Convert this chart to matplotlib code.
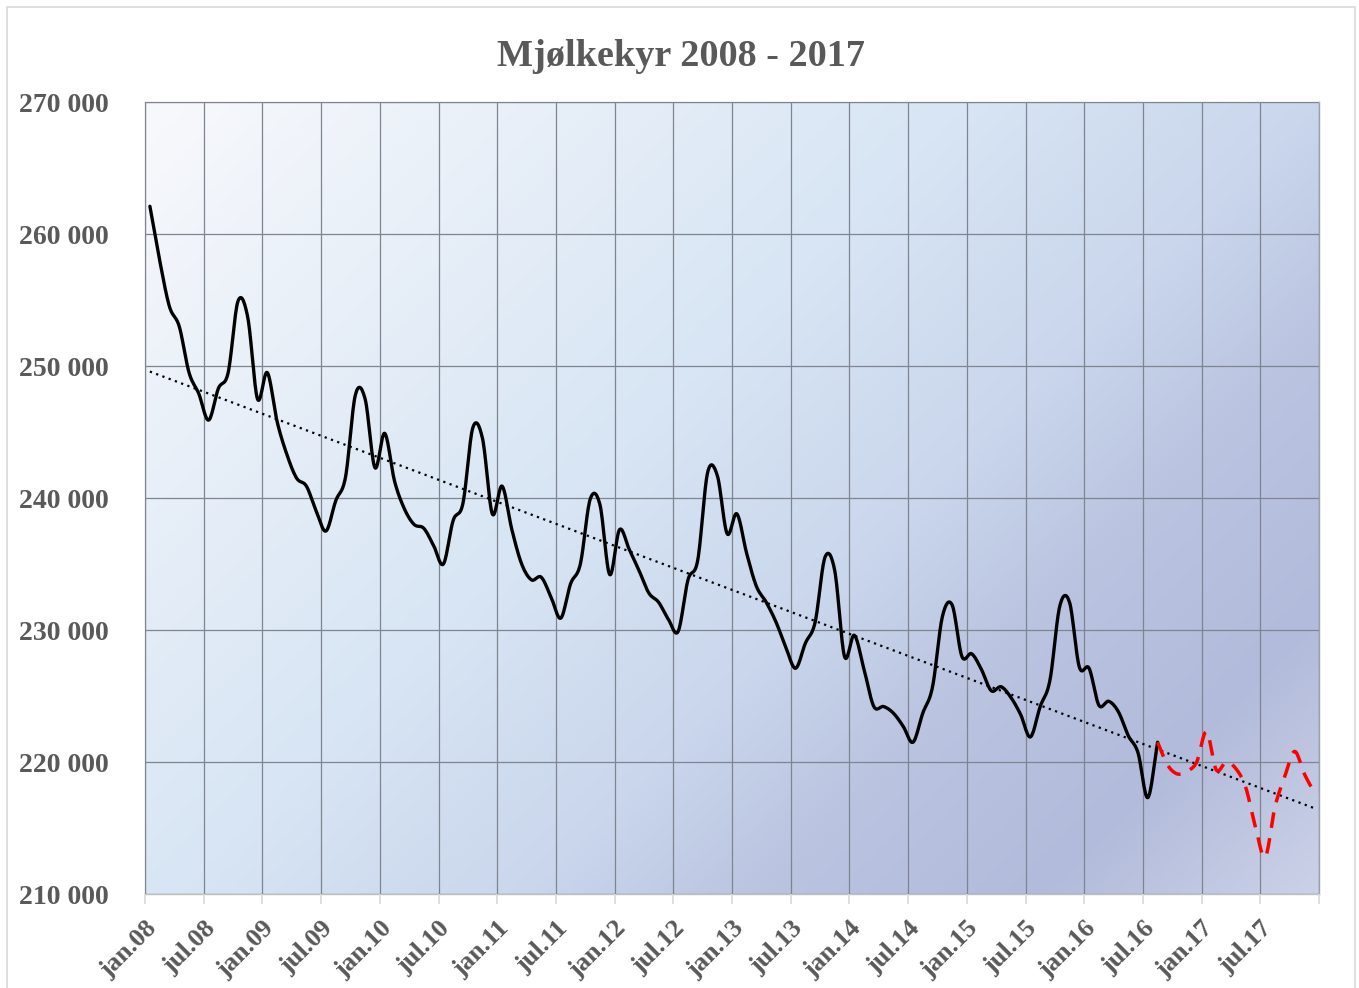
import numpy as np
import matplotlib
matplotlib.use("Agg")
import matplotlib.pyplot as plt
from matplotlib.colors import LinearSegmentedColormap
from matplotlib.patches import Rectangle
from matplotlib.transforms import ScaledTranslation

########## data (number of dairy cows, monthly) ##########

title = "Mjølkekyr 2008 - 2017"

# jan.08 - aug.16, actual figures
actual = [262100, 258000, 254500, 253000, 249500, 247900, 245900, 248300, 249500, 254900,
          253700, 247500, 249500, 245800, 243300, 241500, 240900, 239000, 237500, 239800,
          241600, 247800, 247500, 242300, 244900, 241300, 239200, 238000, 237700, 236400,
          235000, 238300, 239600, 245300, 244500, 238800, 240900, 237600, 235000, 233800,
          234000, 232500, 230900, 233500, 235000, 239900, 239500, 234200, 237600, 236100,
          234500, 232800, 232100, 230800, 229900, 233800, 235300, 241900, 241700, 237300,
          238800, 235800, 233300, 232100, 230600, 228700, 227100, 229000, 230600, 235500,
          234500, 228000, 229600, 227000, 224200, 224200, 223700, 222700, 221500, 223700,
          225700, 231000, 231900, 228000, 228200, 227000, 225400, 225700, 224900, 223600,
          221900, 224200, 226200, 231800, 232100, 227200, 227100, 224300, 224600, 223800,
          222000, 220700, 217300, 221500]

# aug.16 - dec.17, dashed red part
projected = [221500, 219800, 219100, 219300, 220000, 222300, 219400, 220000, 219500, 218100,
             215100, 212800, 216600, 218900, 220800, 219100, 217700]

years = list(range(2008, 2018))
tick_labels = []
for yr in years:
    tick_labels += ["jan.%02d" % (yr % 100), "jul.%02d" % (yr % 100)]

y_ticks = [210000, 220000, 230000, 240000, 250000, 260000, 270000]

########## helpers ##########

def smooth(x, y, n=16):
    # catmull-rom style bezier smoothing like the spreadsheet "smoothed line"
    x = np.asarray(x, float)
    y = np.asarray(y, float)
    xp = np.concatenate([[2 * x[0] - x[1]], x, [2 * x[-1] - x[-2]]])
    yp = np.concatenate([[2 * y[0] - y[1]], y, [2 * y[-1] - y[-2]]])
    t = np.linspace(0, 1, n, endpoint=False)
    sx, sy = [], []
    for k in range(len(x) - 1):
        p0 = np.array([xp[k], yp[k]])
        p1 = np.array([xp[k + 1], yp[k + 1]])
        p2 = np.array([xp[k + 2], yp[k + 2]])
        p3 = np.array([xp[k + 3], yp[k + 3]])
        c1 = p1 + (p2 - p0) / 6
        c2 = p2 - (p3 - p1) / 6
        b = ((1 - t) ** 3)[:, None] * p1 + (3 * (1 - t) ** 2 * t)[:, None] * c1 \
            + (3 * (1 - t) * t ** 2)[:, None] * c2 + (t ** 3)[:, None] * p2
        sx.extend(b[:, 0])
        sy.extend(b[:, 1])
    sx.append(x[-1])
    sy.append(y[-1])
    return np.array(sx), np.array(sy)

def fmt(v):
    return "{:,}".format(int(v)).replace(",", " ")

########## figure ##########

plt.rcParams['font.family'] = ['Liberation Serif', 'DejaVu Serif']
txt = '#595959'

fig = plt.figure(figsize=(13.59, 9.88), dpi=100)
fig.patches.append(Rectangle((6.5 / 1359, -0.01), 1348 / 1359, 1 - 7 / 988 + 0.01,
                             transform=fig.transFigure, fill=False,
                             edgecolor='#d9d9d9', linewidth=1.2))

ax = fig.add_axes([145 / 1359, 1 - 894 / 988, 1174 / 1359, 792 / 988])

# gradient background of the plot area (45 degrees in pixel space)
cmap = LinearSegmentedColormap.from_list('bg', [(0.0, '#f8f9fc'), (0.42, '#d7e5f4'),
                                                 (0.6, '#c9d6ec'), (0.72, '#bac3e0'),
                                                 (0.86, '#b2bbdb'), (1.0, '#cbd1e7')])
u, v = np.meshgrid(np.linspace(0, 1174, 400), np.linspace(0, 792, 300))
ax.imshow((u + v) / (1174 + 792), cmap=cmap, vmin=0, vmax=1, extent=[0, 1, 0, 1],
          transform=ax.transAxes, aspect='auto', origin='upper', zorder=0,
          interpolation='bilinear')

x_act = np.arange(len(actual)) + 0.5
x_proj = np.arange(len(actual) - 1, len(actual) - 1 + len(projected)) + 0.5

# linear trend of the actual figures, carried on to the end
z = np.polyfit(x_act, actual, 1)
f = np.poly1d(z)
x_all = np.array([0.5, 119.5])
ax.plot(x_all, f(x_all), color='black', linestyle=(0, (1, 2)), linewidth=1.6, zorder=3)

sx, sy = smooth(x_act, actual)
ax.plot(sx, sy, color='black', linewidth=2.4, zorder=4, solid_capstyle='round')
px, py = smooth(x_proj, projected)
ax.plot(px, py, color='#ff0000', linewidth=2.5, linestyle=(0, (4.5, 3)), zorder=4)

ax.set_xlim(0, 120)
ax.set_ylim(210000, 270000)
xt = np.arange(0, 121, 6)
ax.set_xticks(xt)
ax.set_xticklabels([])
# rotated month labels, placed a little right of and below each tick
shift = ScaledTranslation(0.08, -0.31, fig.dpi_scale_trans)
for pos, lab in zip(xt, tick_labels):
    ax.text(pos, 0, lab, transform=ax.get_xaxis_transform() + shift,
            rotation=45, ha='right', va='center', rotation_mode='anchor',
            fontsize=19, fontweight='bold', color=txt, clip_on=False)
ax.set_yticks(y_ticks)
ax.set_yticklabels([fmt(v) for v in y_ticks], fontsize=20, fontweight='bold', color=txt)
ax.tick_params(axis='x', length=7, color='#d9d9d9', width=1.2)
ax.tick_params(axis='y', length=0, pad=26)
ax.grid(True, color='#7f8590', linewidth=0.9, zorder=1)
ax.set_axisbelow(False)
for s in ax.spines.values():
    s.set_color('#bfbfbf')
    s.set_linewidth(1.0)
ax.spines['right'].set_color('#9aa0ad')

fig.text(681 / 1359, 1 - 66 / 988, title, ha='center', va='baseline',
         fontsize=27.5, fontweight='bold', color=txt)

fig.savefig('out.png', dpi=100)
